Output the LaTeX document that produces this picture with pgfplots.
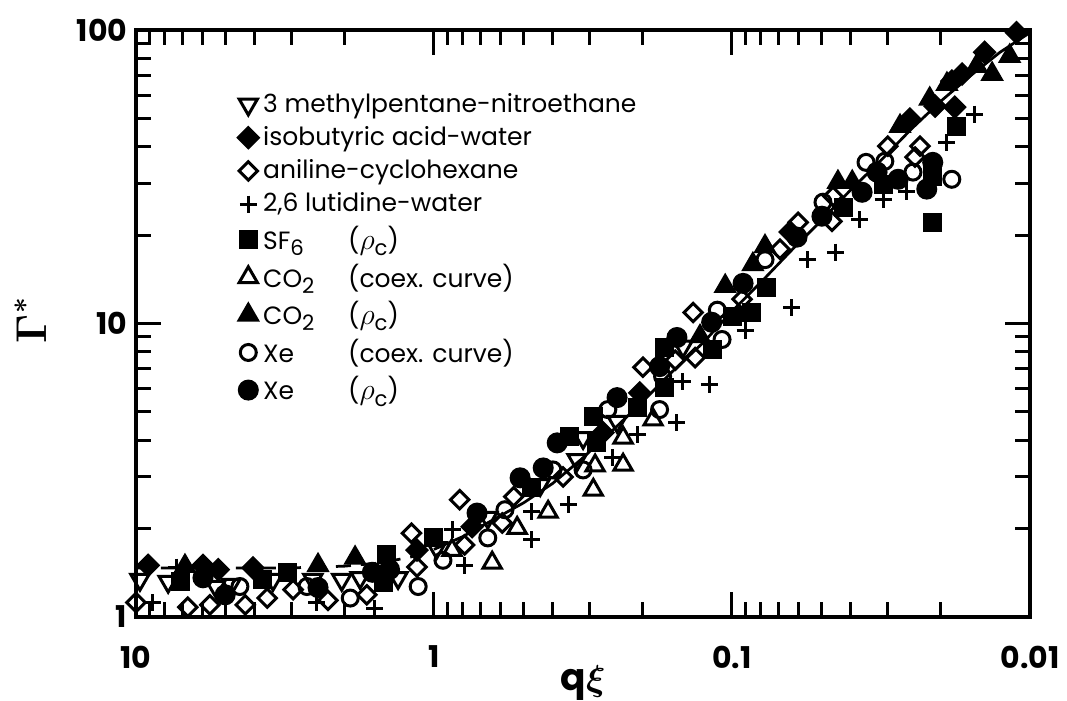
\documentclass[border=0pt]{standalone}
\usepackage{fontspec}
\setmainfont{Poppins}
\usepackage{amsmath}
\usepackage{pgfplots}
\pgfplotsset{compat=1.18}
\usetikzlibrary{calc}

\newcommand{\sub}[1]{\raisebox{-0.45ex}{\fontsize{8.5}{8.5}\selectfont #1}}
\newcommand{\rhoc}{({\fontsize{13}{13}\selectfont$\rho$}\sub{c})}

\begin{document}
\begin{tikzpicture}
\begin{axis}[
    scale only axis,
    width=357.6pt, height=234.8pt,
    xmode=log, ymode=log, x dir=reverse,
    xmin=0.01, xmax=10, ymin=1, ymax=100,
    xtick={0.01,0.1,1,10}, xticklabels={0.01,0.1,1,10},
    ytick={1,10,100}, yticklabels={1,10,100},
    tick pos=both, xticklabel pos=lower, yticklabel pos=left,
    tick align=inside,
    major tick length=10pt, minor tick length=6pt,
    every tick/.style={black, line width=1.2pt},
    axis line style={line width=1.6pt},
    tick label style={font=\fontsize{12}{12}\selectfont\bfseries},
    xticklabel style={yshift=-8pt},
    xlabel={\textbf{q}$\boldsymbol{\xi}$},
    ylabel={$\boldsymbol{\Gamma}^{\boldsymbol{*}}$},
    xlabel style={font=\fontsize{15}{15}\selectfont, at={(axis description cs:0.5,-0.112)}, anchor=center},
    ylabel style={font=\fontsize{16}{16}\selectfont, at={(axis description cs:-0.118,0.506)}, anchor=center},
    clip=false,
    legend style={at={(0.114,0.902)}, anchor=north west, draw=none, fill=none,
        font=\fontsize{10}{10}\selectfont, row sep=0.2pt, inner sep=0pt},
    legend cell align=left,
    legend image code/.code={\draw[mark repeat=2,mark phase=2,#1] plot coordinates {(0cm,0cm) (0.2cm,0cm) (0.4cm,0cm)};},
    every axis plot/.append style={black, line width=1.2pt},
]
% theory curve
\addplot[forget plot, line width=1.1pt, dash pattern=on 6pt off 4pt] coordinates {
    (10,1.47) (5,1.47) (3,1.47) (2,1.49) (1.5,1.53) (1.2,1.6) (1.0,1.7)
};
\addplot[forget plot, line width=1.1pt] coordinates {
    (1.0,1.7) (0.8,1.88) (0.63,2.15) (0.5,2.45) (0.4,2.85) (0.32,3.45) (0.25,4.35)
    (0.2,5.4) (0.16,6.8) (0.125,8.6) (0.1,11) (0.079,14) (0.063,17.8) (0.05,22.5)
    (0.04,28.5) (0.0316,36) (0.025,46) (0.02,57) (0.0158,70) (0.0126,84) (0.01,98)
};

% 3 methylpentane-nitroethane
\addplot[only marks, mark=triangle, mark size=4.2pt, mark options={rotate=180, fill=white}] coordinates {
    (9.7,1.34) (7.8,1.32) (5.4,1.27) (4.8,1.29) (3.47,1.34) (2.55,1.34) (2.04,1.34)
    (1.77,1.36) (1.32,1.36) (0.98,1.72) (0.66,2.18) (0.44,2.82) (0.331,3.43)
    (0.316,4.08) (0.243,4.63) (0.146,8.35)
};
\addlegendentry{3 methylpentane-nitroethane}

% isobutyric acid-water
\addplot[only marks, mark=square*, mark size=2.8pt, mark options={rotate=45}] coordinates {
    (9.1,1.50) (5.96,1.50) (5.3,1.45) (4.05,1.47) (1.14,1.69) (0.745,2.03) (0.271,4.25)
    (0.204,5.8) (0.0638,20.5) (0.0253,49.7) (0.0208,55) (0.0183,67) (0.0169,70.8)
    (0.0142,84) (0.0111,98) (0.0179,54.6)
};
\addlegendentry{isobutyric acid-water}

% aniline-cyclohexane
\addplot[only marks, mark=square, mark size=2.6pt, mark options={rotate=45, fill=white}] coordinates {
    (10,1.12) (6.7,1.08) (5.65,1.10) (4.3,1.10) (3.63,1.16) (2.97,1.24) (2.27,1.14)
    (1.68,1.19) (1.19,1.93) (1.14,1.48) (0.82,2.51) (0.79,1.76) (0.59,2.09) (0.54,2.57)
    (0.369,3.0) (0.199,7.1) (0.155,7.5) (0.135,10.9) (0.133,7.65) (0.0925,12.1)
    (0.069,17.9) (0.060,22.1) (0.0462,22.3) (0.0458,27.1) (0.030,40.2) (0.0243,36.9)
    (0.0234,40.2)
};
\addlegendentry{aniline-cyclohexane}

% 2,6 lutidine-water
\addplot[only marks, mark=+, mark size=3.4pt] coordinates {
    (8.77,1.12) (7.3,1.48) (2.47,1.12) (1.58,1.07) (0.87,1.98) (0.79,1.50) (0.469,2.28)
    (0.469,1.83) (0.355,2.41) (0.251,3.49) (0.207,4.18) (0.153,4.59) (0.147,6.34)
    (0.119,6.19) (0.0904,9.5) (0.063,11.3) (0.056,16.5) (0.045,17.5) (0.0372,22.6)
    (0.0311,26.5) (0.0259,28.2) (0.019,41.5) (0.0153,51.7)
};
\addlegendentry{2,6 lutidine-water}

% SF6 (rho_c)
\addplot[only marks, mark=square*, mark size=3.2pt] coordinates {
    (7.1,1.32) (3.75,1.34) (3.09,1.42) (1.48,1.31) (1.44,1.63) (1.0,1.86) (0.469,2.76)
    (0.35,4.11) (0.284,3.92) (0.292,4.81) (0.208,5.17) (0.168,6.05) (0.168,8.28)
    (0.116,8.15) (0.0993,10.6) (0.0857,10.9) (0.0764,13.3) (0.0424,24.9) (0.0311,29.8)
    (0.0212,31.8) (0.0212,22.1) (0.0176,47)
};
\addlegendentry{\makebox[34pt][l]{SF\sub{6}}\rhoc}

% CO2 (coex. curve)
\addplot[only marks, mark=triangle, mark size=4.2pt, mark options={fill=white}] coordinates {
    (0.87,1.69) (0.638,1.53) (0.526,2.01) (0.414,2.28) (0.292,2.71) (0.288,3.28)
    (0.232,3.30) (0.232,4.08) (0.184,4.70)
};
\addlegendentry{\makebox[34pt][l]{CO\sub{2}}(coex. curve)}

% CO2 (rho_c)
\addplot[only marks, mark=triangle*, mark size=4.2pt] coordinates {
    (6.85,1.49) (2.45,1.50) (1.84,1.59) (0.128,9.03) (0.1054,13.4) (0.0851,15.9)
    (0.0775,18.3) (0.0441,30.3) (0.0395,30.3) (0.0273,47) (0.0217,58.2) (0.019,65.4)
    (0.0151,75.4) (0.0134,70.8) (0.0117,81.5)
};
\addlegendentry{\makebox[34pt][l]{CO\sub{2}}\rhoc}

% Xe (coex. curve)
\addplot[only marks, mark=o, mark size=3.2pt, mark options={fill=white}] coordinates {
    (4.48,1.27) (2.67,1.27) (1.91,1.16) (1.13,1.27) (0.933,1.56) (0.66,1.86) (0.578,2.32)
    (0.399,3.17) (0.316,3.17) (0.261,5.09) (0.175,5.09) (0.171,6.6) (0.112,11.1)
    (0.108,8.82) (0.0775,16.5) (0.0495,25.9) (0.0355,35.4) (0.0307,35.7) (0.0247,32.8)
    (0.0183,31)
};
\addlegendentry{\makebox[34pt][l]{Xe}(coex. curve)}

% Xe (rho_c)
\addplot[only marks, mark=*, mark size=3.6pt] coordinates {
    (5.96,1.36) (5.02,1.19) (2.45,1.26) (1.61,1.42) (1.41,1.45) (0.717,2.26) (0.514,2.98)
    (0.43,3.22) (0.386,3.92) (0.243,5.59) (0.175,7.13) (0.153,8.96) (0.117,10.1)
    (0.0918,13.7) (0.0605,19.7) (0.0499,23.2) (0.0366,28) (0.0326,32.8) (0.0277,31)
    (0.0222,28.7) (0.0212,35.4)
};
\addlegendentry{\makebox[34pt][l]{Xe}\rhoc}
\end{axis}
\pgfresetboundingbox
\path[use as bounding box] ($(current axis.south west)+(-54.4pt,-33.6pt)$) rectangle ($(current axis.north east)+(14.8pt,12pt)$);
\end{tikzpicture}
\end{document}
